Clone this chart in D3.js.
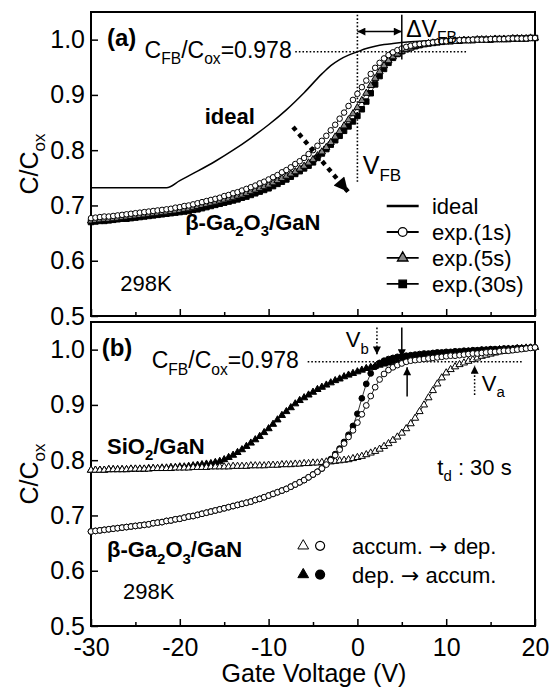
<!DOCTYPE html>
<html>
<head>
<meta charset="utf-8">
<script src="https://cdn.jsdelivr.net/npm/d3@7"></script>
<style>
  body { margin: 0; background: #fff; }
  text { font-family: "Liberation Sans", Arial, Helvetica, sans-serif; fill: #000; }
</style>
</head>
<body>
<svg id="chart" width="553" height="692"></svg>
<script>
// gate voltage sweep (V), shared by every measured curve
const voltage = [
  -30, -29.5, -29, -28.5, -28, -27.5, -27, -26.5, -26, -25.5,
  -25, -24.5, -24, -23.5, -23, -22.5, -22, -21.5, -21, -20.5,
  -20, -19.5, -19, -18.5, -18, -17.5, -17, -16.5, -16, -15.5,
  -15, -14.5, -14, -13.5, -13, -12.5, -12, -11.5, -11, -10.5,
  -10, -9.5, -9, -8.5, -8, -7.5, -7, -6.5, -6, -5.5,
  -5, -4.5, -4, -3.5, -3, -2.5, -2, -1.5, -1, -0.5,
  0, 0.5, 1, 1.5, 2, 2.5, 3, 3.5, 4, 4.5,
  5, 5.5, 6, 6.5, 7, 7.5, 8, 8.5, 9, 9.5,
  10, 10.5, 11, 11.5, 12, 12.5, 13, 13.5, 14, 14.5,
  15, 15.5, 16, 16.5, 17, 17.5, 18, 18.5, 19, 19.5,
  20
];

// panel (a): ideal curve
const idealV = [-30, -21.5, -20, -18, -16, -14, -12, -10, -8, -6, -4, -3, -2, -1, 0, 1, 2, 3, 4, 6, 8, 10, 14, 20];
const idealC = [0.732, 0.732, 0.745, 0.762, 0.780, 0.800, 0.822, 0.846, 0.873, 0.904, 0.938, 0.953, 0.964, 0.972, 0.978, 0.984, 0.988, 0.991, 0.993, 0.996, 0.998, 0.999, 1.000, 1.002];

// panel (a): beta-Ga2O3/GaN, different delay times
const exp1s = [
  0.677, 0.678, 0.679, 0.680, 0.680, 0.681, 0.682, 0.683, 0.684, 0.685,
  0.686, 0.687, 0.688, 0.689, 0.690, 0.691, 0.692, 0.693, 0.694, 0.696,
  0.697, 0.699, 0.700, 0.702, 0.704, 0.706, 0.708, 0.710, 0.712, 0.714,
  0.717, 0.719, 0.722, 0.724, 0.727, 0.730, 0.733, 0.736, 0.740, 0.743,
  0.747, 0.751, 0.755, 0.760, 0.764, 0.769, 0.775, 0.780, 0.786, 0.793,
  0.800, 0.808, 0.817, 0.826, 0.836, 0.846, 0.857, 0.868, 0.880, 0.891,
  0.902, 0.914, 0.926, 0.938, 0.949, 0.958, 0.966, 0.972, 0.977, 0.981,
  0.984, 0.987, 0.989, 0.991, 0.992, 0.993, 0.994, 0.995, 0.996, 0.997,
  0.997, 0.998, 0.998, 0.999, 0.999, 0.999, 1.000, 1.000, 1.000, 1.000,
  1.001, 1.001, 1.001, 1.001, 1.002, 1.002, 1.002, 1.002, 1.002, 1.003,
  1.003
];
const exp5s = [
  0.672, 0.673, 0.674, 0.675, 0.675, 0.676, 0.677, 0.678, 0.679, 0.680,
  0.681, 0.682, 0.683, 0.684, 0.685, 0.686, 0.687, 0.688, 0.689, 0.690,
  0.691, 0.693, 0.694, 0.696, 0.698, 0.700, 0.702, 0.704, 0.706, 0.708,
  0.710, 0.712, 0.714, 0.717, 0.719, 0.722, 0.725, 0.728, 0.731, 0.734,
  0.737, 0.741, 0.745, 0.749, 0.753, 0.757, 0.761, 0.766, 0.771, 0.777,
  0.783, 0.790, 0.797, 0.805, 0.814, 0.824, 0.834, 0.844, 0.855, 0.866,
  0.877, 0.890, 0.903, 0.917, 0.930, 0.942, 0.953, 0.962, 0.969, 0.974,
  0.979, 0.982, 0.985, 0.988, 0.990, 0.991, 0.993, 0.994, 0.995, 0.996,
  0.997, 0.997, 0.998, 0.998, 0.999, 0.999, 0.999, 1.000, 1.000, 1.000,
  1.000, 1.001, 1.001, 1.001, 1.001, 1.002, 1.002, 1.002, 1.002, 1.003,
  1.003
];
const exp30s = [
  0.670, 0.671, 0.672, 0.672, 0.673, 0.674, 0.675, 0.676, 0.676, 0.677,
  0.678, 0.679, 0.680, 0.681, 0.682, 0.683, 0.684, 0.685, 0.686, 0.687,
  0.688, 0.689, 0.690, 0.692, 0.693, 0.695, 0.697, 0.699, 0.701, 0.703,
  0.705, 0.707, 0.709, 0.711, 0.714, 0.716, 0.719, 0.722, 0.725, 0.728,
  0.731, 0.735, 0.739, 0.743, 0.747, 0.752, 0.757, 0.762, 0.767, 0.772,
  0.778, 0.786, 0.794, 0.802, 0.810, 0.818, 0.826, 0.835, 0.843, 0.852,
  0.862, 0.874, 0.888, 0.903, 0.919, 0.934, 0.947, 0.958, 0.967, 0.974,
  0.979, 0.983, 0.986, 0.988, 0.990, 0.992, 0.993, 0.994, 0.995, 0.996,
  0.997, 0.997, 0.998, 0.998, 0.999, 0.999, 0.999, 1.000, 1.000, 1.000,
  1.000, 1.001, 1.001, 1.001, 1.001, 1.002, 1.002, 1.002, 1.002, 1.003,
  1.003
];

// panel (b): SiO2/GaN, accum -> dep (open) and dep -> accum (filled)
const sio2AccDep = [
  0.782, 0.782, 0.782, 0.782, 0.783, 0.783, 0.783, 0.783, 0.783, 0.784,
  0.784, 0.784, 0.784, 0.784, 0.785, 0.785, 0.785, 0.785, 0.785, 0.786,
  0.786, 0.786, 0.786, 0.787, 0.787, 0.787, 0.787, 0.788, 0.788, 0.788,
  0.788, 0.788, 0.789, 0.789, 0.789, 0.789, 0.790, 0.790, 0.790, 0.790,
  0.791, 0.791, 0.791, 0.792, 0.792, 0.792, 0.793, 0.793, 0.794, 0.794,
  0.795, 0.795, 0.796, 0.797, 0.797, 0.798, 0.799, 0.800, 0.801, 0.803,
  0.805, 0.807, 0.810, 0.813, 0.816, 0.820, 0.825, 0.830, 0.836, 0.842,
  0.849, 0.857, 0.866, 0.876, 0.888, 0.900, 0.913, 0.926, 0.938, 0.949,
  0.958, 0.964, 0.969, 0.973, 0.976, 0.979, 0.982, 0.985, 0.988, 0.990,
  0.992, 0.994, 0.996, 0.997, 0.998, 0.999, 1.000, 1.001, 1.002, 1.003,
  1.004
];
const sio2DepAcc = [
  0.782, 0.782, 0.782, 0.782, 0.783, 0.783, 0.783, 0.783, 0.783, 0.784,
  0.784, 0.784, 0.784, 0.785, 0.785, 0.785, 0.786, 0.786, 0.787, 0.787,
  0.788, 0.788, 0.789, 0.790, 0.791, 0.792, 0.793, 0.794, 0.796, 0.798,
  0.801, 0.805, 0.809, 0.814, 0.819, 0.825, 0.831, 0.837, 0.843, 0.850,
  0.857, 0.865, 0.873, 0.881, 0.888, 0.895, 0.902, 0.908, 0.913, 0.918,
  0.923, 0.928, 0.932, 0.936, 0.940, 0.944, 0.947, 0.951, 0.954, 0.957,
  0.960, 0.963, 0.966, 0.968, 0.970, 0.972, 0.974, 0.976, 0.978, 0.979,
  0.981, 0.982, 0.984, 0.985, 0.986, 0.987, 0.988, 0.989, 0.990, 0.991,
  0.992, 0.993, 0.994, 0.994, 0.995, 0.996, 0.996, 0.997, 0.998, 0.998,
  0.999, 0.999, 1.000, 1.000, 1.001, 1.001, 1.002, 1.002, 1.003, 1.003,
  1.004
];

// panel (b): beta-Ga2O3/GaN, accum -> dep (open) and dep -> accum (filled)
const gaoAccDep = [
  0.671, 0.672, 0.673, 0.674, 0.675, 0.676, 0.677, 0.678, 0.679, 0.680,
  0.681, 0.682, 0.683, 0.684, 0.686, 0.687, 0.688, 0.690, 0.691, 0.693,
  0.694, 0.696, 0.698, 0.699, 0.701, 0.703, 0.705, 0.707, 0.709, 0.711,
  0.713, 0.715, 0.717, 0.719, 0.721, 0.723, 0.725, 0.728, 0.730, 0.733,
  0.736, 0.739, 0.742, 0.745, 0.748, 0.752, 0.756, 0.760, 0.764, 0.769,
  0.774, 0.779, 0.785, 0.792, 0.800, 0.809, 0.819, 0.830, 0.842, 0.854,
  0.868, 0.883, 0.899, 0.916, 0.932, 0.946, 0.956, 0.963, 0.968, 0.972,
  0.975, 0.978, 0.980, 0.981, 0.982, 0.983, 0.984, 0.985, 0.986, 0.987,
  0.988, 0.989, 0.989, 0.990, 0.991, 0.992, 0.993, 0.993, 0.994, 0.995,
  0.996, 0.996, 0.997, 0.998, 0.998, 0.999, 1.000, 1.001, 1.002, 1.003,
  1.004
];
const gaoDepAcc = [
  0.671, 0.672, 0.673, 0.674, 0.675, 0.676, 0.677, 0.678, 0.679, 0.680,
  0.681, 0.682, 0.683, 0.684, 0.686, 0.687, 0.688, 0.690, 0.691, 0.693,
  0.694, 0.696, 0.698, 0.699, 0.701, 0.703, 0.705, 0.707, 0.709, 0.711,
  0.713, 0.715, 0.717, 0.719, 0.721, 0.723, 0.725, 0.728, 0.730, 0.733,
  0.736, 0.739, 0.742, 0.745, 0.748, 0.752, 0.756, 0.760, 0.764, 0.769,
  0.774, 0.779, 0.785, 0.793, 0.802, 0.811, 0.821, 0.833, 0.846, 0.862,
  0.884, 0.912, 0.938, 0.957, 0.969, 0.976, 0.980, 0.983, 0.985, 0.987,
  0.988, 0.989, 0.990, 0.991, 0.992, 0.993, 0.993, 0.994, 0.995, 0.995,
  0.996, 0.996, 0.997, 0.997, 0.998, 0.998, 0.999, 0.999, 1.000, 1.000,
  1.001, 1.001, 1.001, 1.002, 1.002, 1.002, 1.003, 1.003, 1.003, 1.004,
  1.004
];

const xTicks = [-30, -20, -10, 0, 10, 20];
const xMinorTicks = [-25, -15, -5, 5, 15];
const yTicks = [0.5, 0.6, 0.7, 0.8, 0.9, 1.0];
const cfbRatio = 0.978;
const legendA = ['ideal', 'exp.(1s)', 'exp.(5s)', 'exp.(30s)'];

const svg = d3.select('#chart');
const x = d3.scaleLinear().domain([-30, 20]).range([91, 535]);
const yA = d3.scaleLinear().domain([0.5, 1.05]).range([316, 12]);
const yB = d3.scaleLinear().domain([0.5, 1.05]).range([626, 322]);

const defs = svg.append('defs');
defs.append('marker')
  .attr('id', 'head').attr('viewBox', '0 0 10 10')
  .attr('refX', 10).attr('refY', 5)
  .attr('markerWidth', 9).attr('markerHeight', 8)
  .attr('markerUnits', 'userSpaceOnUse')
  .attr('orient', 'auto-start-reverse')
  .append('path').attr('d', 'M0,0L10,5L0,10z').attr('fill', '#000');
defs.append('marker')
  .attr('id', 'bighead').attr('viewBox', '0 0 10 10')
  .attr('refX', 10).attr('refY', 5)
  .attr('markerWidth', 16).attr('markerHeight', 14)
  .attr('markerUnits', 'userSpaceOnUse')
  .attr('orient', 'auto')
  .append('path').attr('d', 'M0,0L10,5L0,10z').attr('fill', '#000');

function axes(y, withLabels) {
  const g = svg.append('g');
  g.append('g')
    .attr('transform', `translate(${x.range()[0]},0)`)
    .call(d3.axisLeft(y).tickValues(yTicks).tickSizeInner(-7).tickSizeOuter(0)
      .tickPadding(6).tickFormat(d3.format('.1f')));
  g.append('g')
    .attr('transform', `translate(0,${y.range()[0]})`)
    .call(d3.axisBottom(x).tickValues(xTicks).tickSizeInner(-7).tickSizeOuter(0)
      .tickPadding(12).tickFormat(d => withLabels ? String(d) : ''));
  g.append('g')
    .attr('transform', `translate(0,${y.range()[0]})`)
    .call(d3.axisBottom(x).tickValues(xMinorTicks).tickSizeInner(-4).tickSizeOuter(0)
      .tickFormat(() => ''));
  g.selectAll('.domain').remove();
  g.selectAll('.tick line').attr('stroke', '#000').attr('stroke-width', 1.5);
  g.selectAll('.tick text')
    .attr('font-size', 25)
    .attr('font-family', '"Liberation Sans", Arial, sans-serif')
    .attr('fill', '#000');
  g.append('rect')
    .attr('x', x.range()[0]).attr('y', y.range()[1])
    .attr('width', x.range()[1] - x.range()[0])
    .attr('height', y.range()[0] - y.range()[1])
    .attr('fill', 'none').attr('stroke', '#000').attr('stroke-width', 2);
}

// text with subscript parts: [[string, isSub, fontFamily?], ...]
function label(px, py, parts, size, opts = {}) {
  const t = svg.append('text')
    .attr('x', px).attr('y', py)
    .attr('font-size', size)
    .attr('font-weight', opts.bold ? 'bold' : 'normal')
    .attr('text-anchor', opts.anchor || 'start');
  if (opts.rotate) t.attr('transform', `rotate(-90,${px},${py})`);
  let shift = 0;
  parts.forEach(([s, sub, fam]) => {
    const want = sub ? size * 0.28 : 0;
    const ts = t.append('tspan')
      .attr('dy', want - shift)
      .attr('font-size', sub ? size * 0.68 : size)
      .text(s);
    if (fam) ts.style('font-family', fam);
    shift = want;
  });
  return t;
}

function series(y, xs, vals, sym, size, fill, line) {
  const pts = xs.map((v, i) => [v, vals[i]]);
  const g = svg.append('g');
  if (line) {
    g.append('path').datum(pts)
      .attr('fill', 'none').attr('stroke', '#000').attr('stroke-width', 0.8)
      .attr('d', d3.line().x(d => x(d[0])).y(d => y(d[1])));
  }
  g.selectAll(null).data(pts).enter().append('path')
    .attr('transform', d => `translate(${x(d[0])},${y(d[1])})`)
    .attr('d', d3.symbol().type(sym).size(size))
    .attr('fill', fill).attr('stroke', '#000').attr('stroke-width', 1);
}

function hline(y, v, x0, x1) {
  svg.append('line')
    .attr('x1', x(x0)).attr('x2', x(x1)).attr('y1', y(v)).attr('y2', y(v))
    .attr('stroke', '#000').attr('stroke-width', 1.6).attr('stroke-dasharray', '1.6,2');
}

function arrow(y, x0, v0, x1, v1, dotted, both) {
  const l = svg.append('line')
    .attr('x1', x(x0)).attr('y1', y(v0)).attr('x2', x(x1)).attr('y2', y(v1))
    .attr('stroke', '#000').attr('stroke-width', 1.5)
    .attr('marker-end', 'url(#head)');
  if (dotted) l.attr('stroke-dasharray', '1.6,2');
  if (both) l.attr('marker-start', 'url(#head)');
}

// ---------- panel (a) ----------
axes(yA, false);

hline(yA, cfbRatio, -7.0, 12.3);
svg.append('line')
  .attr('x1', x(0)).attr('x2', x(0)).attr('y1', yA(1.045)).attr('y2', yA(0.743))
  .attr('stroke', '#000').attr('stroke-width', 1.6).attr('stroke-dasharray', '1.6,2');

svg.append('path').datum(idealV.map((v, i) => [v, idealC[i]]))
  .attr('fill', 'none').attr('stroke', '#000').attr('stroke-width', 1.5)
  .attr('d', d3.line().x(d => x(d[0])).y(d => yA(d[1])).curve(d3.curveMonotoneX));

series(yA, voltage, exp30s, d3.symbolSquare, 30, '#000', true);
series(yA, voltage, exp5s, d3.symbolTriangle, 22, '#888', true);
series(yA, voltage, exp1s, d3.symbolCircle, 24, '#fff', true);

// delta V_FB marks
arrow(yA, 0, 1.0145, 5, 1.0145, false, true);
svg.append('line')
  .attr('x1', x(5)).attr('x2', x(5)).attr('y1', yA(1.045)).attr('y2', yA(0.964))
  .attr('stroke', '#000').attr('stroke-width', 1.5);
label(x(5.5), yA(1.005), [['\u0394V', false], ['FB', true]], 23);
label(x(0.6), yA(0.757), [['V', false], ['FB', true]], 25);

// thick dotted trend arrow
svg.append('line')
  .attr('x1', x(-7.25)).attr('y1', yA(0.842)).attr('x2', x(-1.06)).attr('y2', yA(0.725))
  .attr('stroke', '#000').attr('stroke-width', 4.5).attr('stroke-dasharray', '4.5,4.5')
  .attr('marker-end', 'url(#bighead)');

label(x(-28.2), yA(0.988), [['(a)', false]], 24, { bold: true });
label(x(-7.4), yA(0.967), [['C', false], ['FB', true], ['/C', false], ['ox', true], ['=0.978', false]], 23, { anchor: 'end' });
label(x(-17.2), yA(0.847), [['ideal', false]], 22, { bold: true });
label(x(-19.4), yA(0.656), [['\u03B2-Ga', false], ['2', true], ['O', false], ['3', true], ['/GaN', false]], 22, { bold: true });
label(x(-26.7), yA(0.545), [['298K', false]], 22);
label(38, yA(0.775), [['C/C', false], ['ox', true]], 25, { anchor: 'middle', rotate: true });

// legend (a)
const legRowsA = [0.699, 0.652, 0.605, 0.558];
const legSyms = [null, d3.symbolCircle, d3.symbolTriangle, d3.symbolSquare];
const legFill = [null, '#fff', '#888', '#000'];
const legSize = [0, 60, 48, 56];
legendA.forEach((name, i) => {
  const yy = yA(legRowsA[i]);
  svg.append('line')
    .attr('x1', x(3.3)).attr('x2', x(6.9)).attr('y1', yy).attr('y2', yy)
    .attr('stroke', '#000').attr('stroke-width', i === 0 ? 2.5 : 1.8);
  if (legSyms[i]) {
    svg.append('path')
      .attr('transform', `translate(${x(5.1)},${yy})`)
      .attr('d', d3.symbol().type(legSyms[i]).size(legSize[i]))
      .attr('fill', legFill[i]).attr('stroke', '#000').attr('stroke-width', 1.3);
  }
  label(x(8.4), yy + 8, [[name, false]], 22);
});

// ---------- panel (b) ----------
axes(yB, true);

hline(yB, cfbRatio, -5.6, 18.6);

series(yB, voltage, sio2DepAcc, d3.symbolTriangle, 22, '#000', true);
series(yB, voltage, gaoDepAcc, d3.symbolCircle, 26, '#000', true);
series(yB, voltage, sio2AccDep, d3.symbolTriangle, 22, '#fff', true);
series(yB, voltage, gaoAccDep, d3.symbolCircle, 26, '#fff', true);

// flat-band arrows
arrow(yB, 2.2, 1.04, 2.2, 0.991, true, false);
arrow(yB, 5.0, 1.04, 5.0, 0.986, false, false);
arrow(yB, 5.6, 0.915, 5.6, 0.968, false, false);
arrow(yB, 13.2, 0.918, 13.2, 0.971, true, false);
label(x(-1.3), yB(1.004), [['V', false], ['b', true]], 22);
label(x(14.0), yB(0.926), [['V', false], ['a', true]], 22);

label(x(-28.8), yB(0.988), [['(b)', false]], 24, { bold: true });
label(x(-6.6), yB(0.966), [['C', false], ['FB', true], ['/C', false], ['ox', true], ['=0.978', false]], 23, { anchor: 'end' });
label(x(-28.2), yB(0.811), [['SiO', false], ['2', true], ['/GaN', false]], 22, { bold: true });
label(x(-28.2), yB(0.624), [['\u03B2-Ga', false], ['2', true], ['O', false], ['3', true], ['/GaN', false]], 22, { bold: true });
label(x(-26.4), yB(0.548), [['298K', false]], 22);
label(x(9.0), yB(0.774), [['t', false], ['d', true], [' : 30 s', false]], 22);
label(38, yB(0.775), [['C/C', false], ['ox', true]], 25, { anchor: 'middle', rotate: true });
label((x.range()[0] + x.range()[1]) / 2 + 1, 682, [['Gate Voltage (V)', false]], 25, { anchor: 'middle' });

// legend (b)
const legRowsB = [0.645, 0.593];
const legTextB = [['accum. ', '\u2192', ' dep.'], ['dep. ', '\u2192', ' accum.']];
const legFillB = ['#fff', '#000'];
legRowsB.forEach((v, i) => {
  const yy = yB(v);
  svg.append('path')
    .attr('transform', `translate(${x(-6.1)},${yy})`)
    .attr('d', d3.symbol().type(d3.symbolTriangle).size(50))
    .attr('fill', legFillB[i]).attr('stroke', '#000').attr('stroke-width', 1);
  svg.append('path')
    .attr('transform', `translate(${x(-4.2)},${yy})`)
    .attr('d', d3.symbol().type(d3.symbolCircle).size(64))
    .attr('fill', legFillB[i]).attr('stroke', '#000').attr('stroke-width', 1.2);
  const [a, arr, b] = legTextB[i];
  label(x(-0.6), yy + 8, [[a, false], [arr, false, '"DejaVu Sans", sans-serif'], [b, false]], 22);
});
</script>
</body>
</html>
